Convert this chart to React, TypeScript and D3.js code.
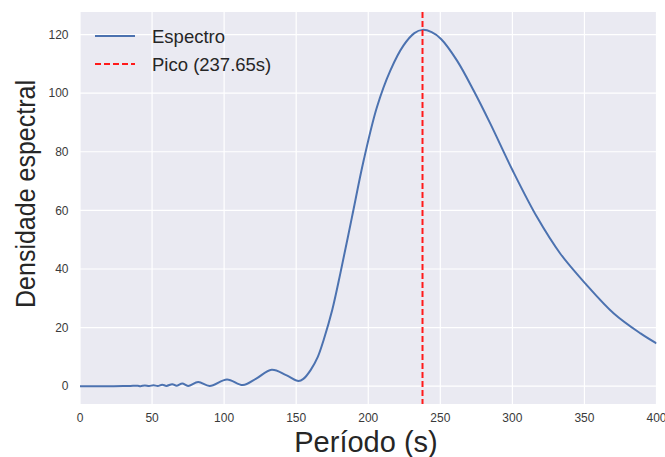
import React from "react";
import * as d3 from "d3";

// periodo (s) and densidade espectral
const periods = [
  0, 10, 20, 30, 35, 40, 42, 45, 48, 51, 54, 57, 60, 64, 67, 71, 75, 82, 90,
  102, 113, 122, 133, 143, 151.6, 155, 160, 165, 169, 175, 180.6, 188.7,
  196.8, 206, 215.3, 224.5, 232, 237.65, 244, 250.5, 261.6, 273.1, 284.7,
  300.2, 317.1, 333.3, 350.7, 370.4, 388.9, 400,
];
const density = [
  0, 0, 0, 0.05, 0.1, 0.15, 0.0, 0.25, 0.05, 0.35, 0.05, 0.5, 0.1, 0.7, 0.15,
  0.9, 0.1, 1.4, 0.1, 2.3, 0.4, 2.5, 5.6, 3.8, 1.8, 2.5, 5.5, 10, 15.7, 26,
  38.4, 57.7, 77, 95.2, 107.7, 116.3, 120.5, 121.6, 120.8, 118.5, 111.1,
  100.9, 89.6, 73.6, 57.7, 45.2, 35, 24.8, 18, 14.6,
];
const peakPeriod = 237.65;

const xTicks = [0, 50, 100, 150, 200, 250, 300, 350, 400];
const yTicks = [0, 20, 40, 60, 80, 100, 120];

const legendLabels = ["Espectro", `Pico (${peakPeriod}s)`];

const W = 665;
const H = 457;
const margin = { top: 12, right: 8.5, bottom: 53, left: 80 };

const App = () => {
  const x = d3
    .scaleLinear()
    .domain([0, 400])
    .range([margin.left, W - margin.right]);
  const y = d3
    .scaleLinear()
    .domain([-6.08, 127.7])
    .range([H - margin.bottom, margin.top]);

  const pts = periods.map((p, i) => [p, density[i]] as [number, number]);
  const line = d3
    .line<[number, number]>()
    .x((d) => x(d[0]))
    .y((d) => y(d[1]))
    .curve(d3.curveCatmullRom.alpha(0.5));

  const plotW = W - margin.left - margin.right;
  const plotH = H - margin.top - margin.bottom;
  const font = "'Liberation Sans', Arial, sans-serif";

  return (
    <svg
      width={W}
      height={H}
      viewBox={`0 0 ${W} ${H}`}
      style={{ position: "absolute", left: 0, top: 0, background: "#fff" }}
      fontFamily={font}
    >
      <defs>
        <clipPath id="plot">
          <rect x={margin.left} y={margin.top} width={plotW} height={plotH} />
        </clipPath>
      </defs>

      {/* background + grid */}
      <rect x={margin.left} y={margin.top} width={plotW} height={plotH} fill="#EAEAF2" />
      {xTicks.map((t) => (
        <line key={"gx" + t} x1={x(t)} x2={x(t)} y1={margin.top} y2={H - margin.bottom} stroke="#fff" strokeWidth={1.2} />
      ))}
      {yTicks.map((t) => (
        <line key={"gy" + t} x1={margin.left} x2={W - margin.right} y1={y(t)} y2={y(t)} stroke="#fff" strokeWidth={1.2} />
      ))}

      {/* tick labels */}
      {xTicks.map((t) => (
        <text key={"tx" + t} x={x(t)} y={422} textAnchor="middle" fontSize={12} fill="#3a3a3a">
          {t}
        </text>
      ))}
      {yTicks.map((t) => (
        <text key={"ty" + t} x={68.5} y={y(t) + 4.3} textAnchor="end" fontSize={12} fill="#3a3a3a">
          {t}
        </text>
      ))}

      {/* data */}
      <g clipPath="url(#plot)">
        <path d={line(pts) ?? ""} fill="none" stroke="#4C72B0" strokeWidth={2} />
        <line
          x1={x(peakPeriod)}
          x2={x(peakPeriod)}
          y1={margin.top}
          y2={H - margin.bottom}
          stroke="#ff1a1a"
          strokeWidth={2}
          strokeDasharray="6,3"
        />
      </g>

      {/* axis labels */}
      <text x={366} y={451.5} textAnchor="middle" fontSize={29} fill="#262626">
        Período (s)
      </text>
      <text
        transform={`translate(35,194) rotate(-90)`}
        textAnchor="middle"
        fontSize={27}
        fill="#262626"
        textLength={228}
        lengthAdjust="spacingAndGlyphs"
      >
        Densidade espectral
      </text>

      {/* legend */}
      <line x1={95} x2={135} y1={36} y2={36} stroke="#4C72B0" strokeWidth={2} />
      <text x={152} y={43} fontSize={18.5} fill="#262626">
        {legendLabels[0]}
      </text>
      <line x1={95} x2={135} y1={64} y2={64} stroke="#ff1a1a" strokeWidth={2} strokeDasharray="6,3" />
      <text x={152} y={70.5} fontSize={18.5} fill="#262626">
        {legendLabels[1]}
      </text>
    </svg>
  );
};

export default App;
